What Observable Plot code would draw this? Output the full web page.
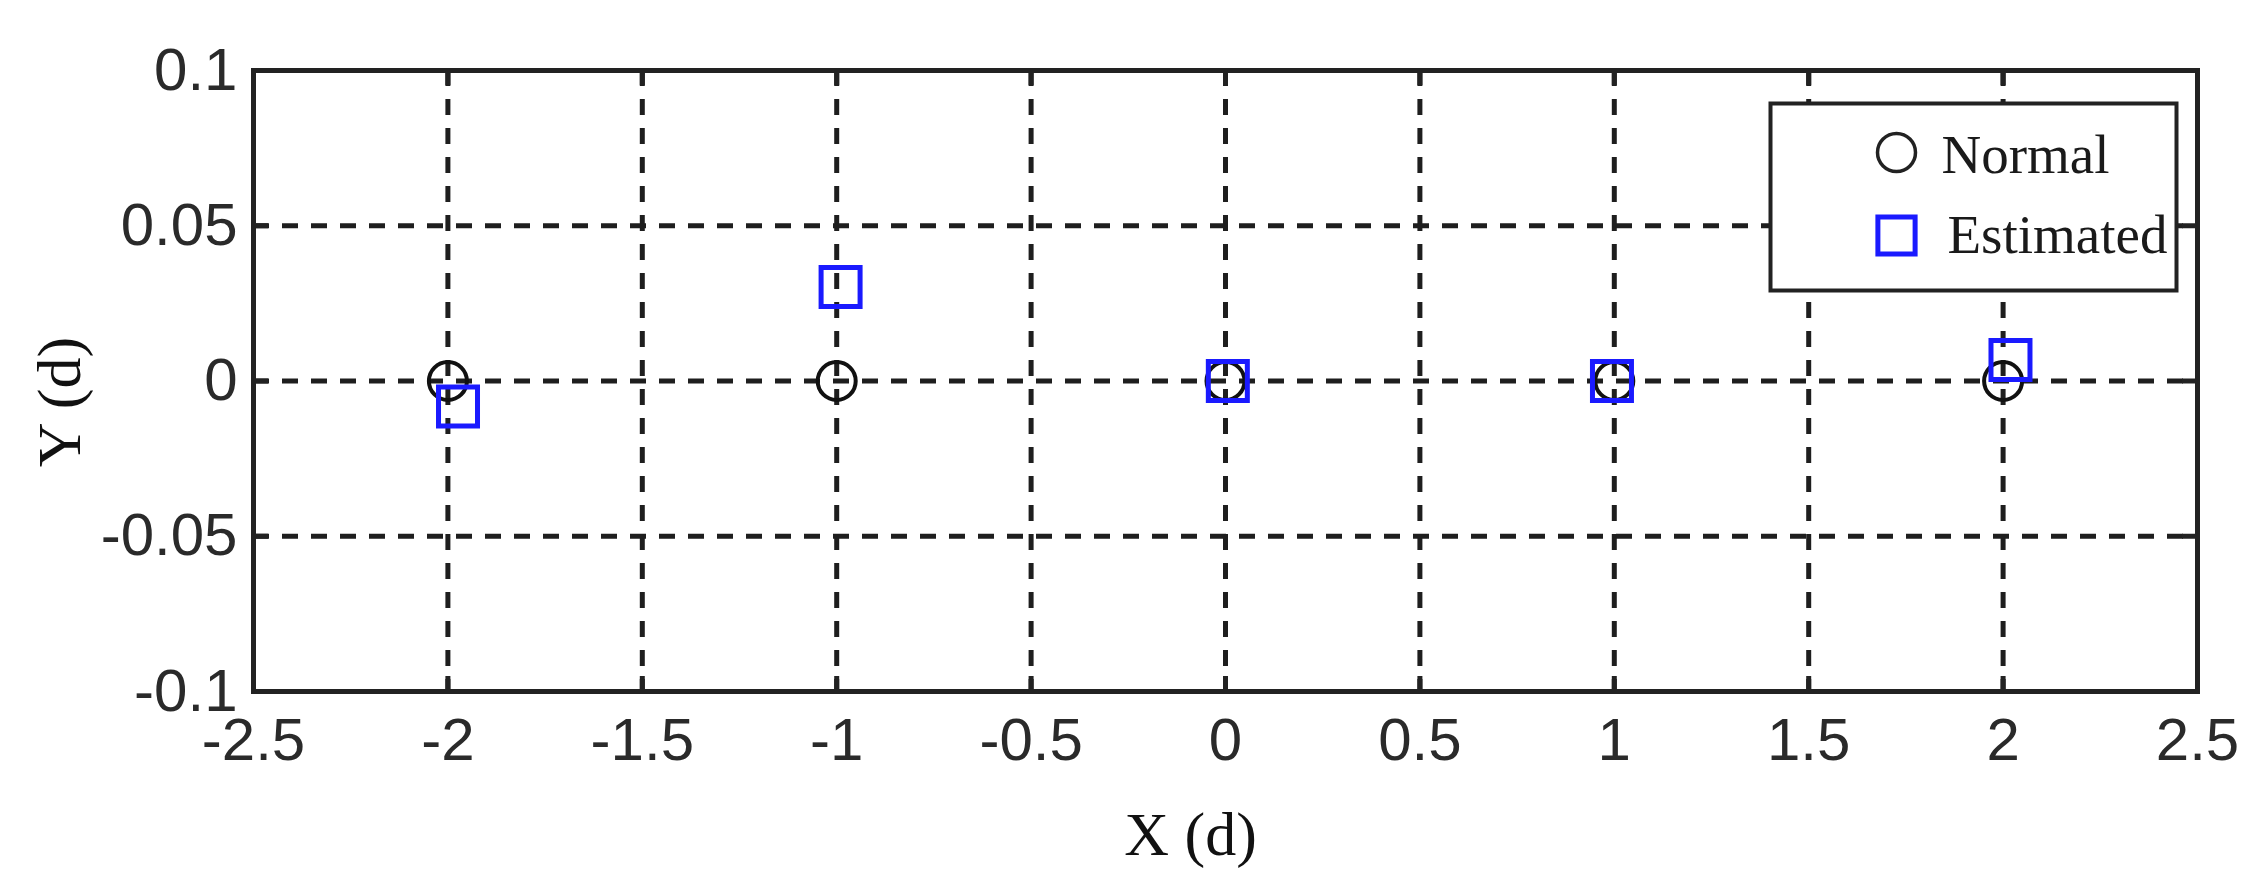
<!DOCTYPE html>
<html>
<head>
<meta charset="utf-8">
<script src="https://cdn.jsdelivr.net/npm/d3@7"></script>
<script src="https://cdn.jsdelivr.net/npm/@observablehq/plot@0.6"></script>
<style>
  html, body { margin: 0; padding: 0; background: #fff; }
</style>
</head>
<body>
<div id="chart"></div>
<script>
// ---- data ----
const xTicks = [-2.5, -2, -1.5, -1, -0.5, 0, 0.5, 1, 1.5, 2, 2.5];
const yTicks = [-0.1, -0.05, 0, 0.05, 0.1];
const normalX = [-2, -1, 0, 1, 2];
const normalY = [0, 0, 0, 0, 0];
const estimatedX = [-1.974, -0.99, 0.006, 0.994, 2.019];
const estimatedY = [-0.0082, 0.0303, 0, 0, 0.0068];
const seriesNames = ["Normal", "Estimated"];
const xLabel = "X (d)";
const yLabel = "Y (d)";

const normal = normalX.map((x, i) => ({x, y: normalY[i]}));
const estimated = estimatedX.map((x, i) => ({x, y: estimatedY[i]}));

const W = 2265, H = 891;
const mL = 253, mR = 68, mT = 70, mB = 200;
const plotW = W - mL - mR, plotH = H - mT - mB;
const tickLen = 15;
const gridStyle = {stroke: "#1e1e1e", strokeOpacity: 1, strokeWidth: 5, strokeDasharray: "16,13"};
const tickStyle = {stroke: "#222", strokeWidth: 5};
const serif = "'Liberation Serif', 'Times New Roman', serif";
const fmt = d => String(d);

const chart = Plot.plot({
  width: W, height: H,
  marginLeft: mL, marginRight: mR, marginTop: mT, marginBottom: mB,
  style: {background: "#fff", fontFamily: "'Liberation Sans', Arial, sans-serif", fontSize: "60px", color: "#2a2a2a"},
  x: {domain: [-2.5, 2.5]},
  y: {domain: [-0.1, 0.1]},
  marks: [
    Plot.gridX(xTicks, gridStyle),
    Plot.gridY(yTicks, gridStyle),
    Plot.tickX(xTicks, {x: d => d, ...tickStyle, insetTop: plotH - tickLen}),
    Plot.tickX(xTicks, {x: d => d, ...tickStyle, insetBottom: plotH - tickLen}),
    Plot.tickY(yTicks, {y: d => d, ...tickStyle, insetRight: plotW - tickLen}),
    Plot.tickY(yTicks, {y: d => d, ...tickStyle, insetLeft: plotW - tickLen}),
    Plot.axisX(xTicks, {tickSize: 0, tickPadding: 26, tickFormat: fmt, label: null}),
    Plot.axisY(yTicks, {tickSize: 0, tickPadding: 16, tickFormat: fmt, label: null}),
    Plot.dot(normal, {x: "x", y: "y", symbol: "circle", r: 19, stroke: "#111", strokeWidth: 4, fill: "none"}),
    Plot.dot(estimated, {x: "x", y: "y", symbol: "square", r: 22, stroke: "#1a1aff", strokeWidth: 5, fill: "none"}),
    Plot.frame({stroke: "#222", strokeWidth: 5}),
    // legend box
    Plot.frame({insetLeft: 1517, insetRight: 21, insetTop: 33, insetBottom: 401, fill: "#fff", stroke: "#222", strokeWidth: 4}),
    Plot.dot([seriesNames[0]], {frameAnchor: "top-right", dx: -301, dy: 82, symbol: "circle", r: 19, stroke: "#222", strokeWidth: 3.5, fill: "none"}),
    Plot.dot([seriesNames[1]], {frameAnchor: "top-right", dx: -301, dy: 165, symbol: "square", r: 21, stroke: "#1a1aff", strokeWidth: 5, fill: "none"}),
    Plot.text([seriesNames[0]], {text: d => d, frameAnchor: "top-right", dx: -256, dy: 85, textAnchor: "start", lineAnchor: "middle", fontFamily: serif, fontSize: 55, fill: "#1a1a1a"}),
    Plot.text([seriesNames[1]], {text: d => d, frameAnchor: "top-right", dx: -250, dy: 165, textAnchor: "start", lineAnchor: "middle", fontFamily: serif, fontSize: 55, fill: "#1a1a1a"}),
    // axis labels
    Plot.text([xLabel], {text: d => d, frameAnchor: "bottom", dx: -35, dy: 144, textAnchor: "middle", lineAnchor: "middle", fontFamily: serif, fontSize: 62, fill: "#111"}),
    Plot.text([yLabel], {text: d => d, frameAnchor: "left", dx: -193, dy: 21, rotate: -90, textAnchor: "middle", lineAnchor: "middle", fontFamily: serif, fontSize: 62, fill: "#111"})
  ]
});
document.getElementById("chart").appendChild(chart);
</script>
</body>
</html>
